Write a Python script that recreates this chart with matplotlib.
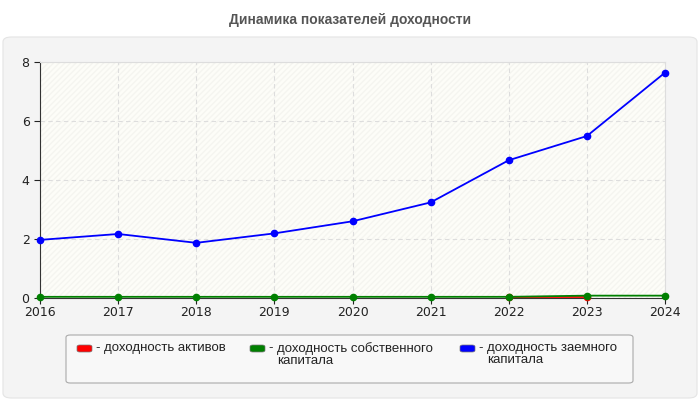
import matplotlib
matplotlib.use("Agg")
import matplotlib.pyplot as plt
from matplotlib.patches import FancyBboxPatch, Rectangle
import numpy as np

years = [2016, 2017, 2018, 2019, 2020, 2021, 2022, 2023, 2024]
assets = [np.nan, np.nan, np.nan, np.nan, np.nan, np.nan, 0.03, 0.03, np.nan]
equity = [0.04, 0.04, 0.04, 0.04, 0.04, 0.04, 0.04, 0.08, 0.08]
borrowed = [1.97, 2.17, 1.87, 2.19, 2.60, 3.24, 4.67, 5.49, 7.64]

series_names = ["доходность активов",
                "доходность собственного\nкапитала",
                "доходность заемного\nкапитала"]
series_colors = ["#ff0000", "#008000", "#0000ff"]

W, H = 700, 400
fig = plt.figure(figsize=(W / 100, H / 100), dpi=100)
fig.patch.set_facecolor("white")

# grey rounded panel behind everything
panel = FancyBboxPatch((3 / W, 2 / H), 694 / W, 361 / H,
                       boxstyle="round,pad=0,rounding_size=0.012",
                       transform=fig.transFigure, facecolor="#f4f4f4",
                       edgecolor="#e4e4e4", linewidth=0.8, zorder=-10)
fig.patches.append(panel)

fig.text(0.5, 1 - 20 / H, "Динамика показателей доходности", ha="center", va="center",
         fontsize=10, fontweight="bold", color="#555555", family="Liberation Sans")

ax = fig.add_axes([40 / W, 1 - 298 / H, 625 / W, 236 / H])
ax.set_facecolor("#fdfdf8")
ax.add_patch(Rectangle((0, 0), 1, 1, transform=ax.transAxes, facecolor="none",
                       hatch="//////", edgecolor="#f5f5f0", linewidth=0, zorder=0))

for vals, c in zip([assets, equity, borrowed], series_colors):
    ax.plot(years, vals, color=c, linewidth=1.3, marker="o", markersize=4.5,
            clip_on=False, zorder=3)

ax.set_xlim(2016, 2024)
ax.set_ylim(0, 8)
ax.set_xticks(years)
ax.set_yticks([0, 2, 4, 6, 8])
ax.grid(True, color="#dddddd", linestyle=(0, (4, 3)), linewidth=0.8)
ax.set_axisbelow(True)
for s in ["top", "right"]:
    ax.spines[s].set_color("#dddddd")
for s in ["left", "bottom"]:
    ax.spines[s].set_color("#333333")
ax.tick_params(axis="both", labelsize=9, colors="#222222", length=4, width=0.8)
ax.tick_params(axis="x", pad=2)
for lab in ax.get_xticklabels() + ax.get_yticklabels():
    lab.set_family("DejaVu Sans")

# legend box
leg = FancyBboxPatch((66 / W, 1 - 383 / H), 567 / W, 48 / H,
                     boxstyle="round,pad=0,rounding_size=0.006",
                     transform=fig.transFigure, facecolor="#f8f8f8",
                     edgecolor="#aaaaaa", linewidth=0.8)
fig.patches.append(leg)
xs = [77, 250, 460]
for x, name, c in zip(xs, series_names, series_colors):
    fig.patches.append(FancyBboxPatch((x / W, 1 - 352 / H), 15 / W, 7 / H,
                                      boxstyle="round,pad=0,rounding_size=0.004",
                                      transform=fig.transFigure, facecolor=c,
                                      edgecolor="#777777", linewidth=0.5))
    fig.text((x + 18) / W, 1 - 342 / H, "-", ha="left", va="top", fontsize=9.5,
             family="Liberation Sans", color="#222222")
    fig.text((x + 27) / W, 1 - 342 / H, name, ha="left", va="top", fontsize=9.5,
             family="Liberation Sans", color="#222222", linespacing=1.0)

fig.savefig("out.png", dpi=100, facecolor="white")
